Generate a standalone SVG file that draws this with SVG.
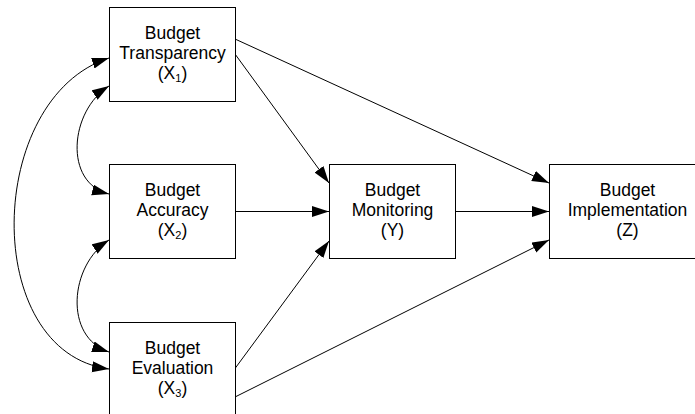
<svg xmlns="http://www.w3.org/2000/svg" width="695" height="414" viewBox="0 0 695 414">
<style>
.box{fill:#fff;stroke:#000;stroke-width:1}
.t{font-family:"Liberation Sans",Arial,sans-serif;font-size:17.5px;fill:#000;text-anchor:middle}
.s{font-size:11px}
.c{fill:none;stroke:#000;stroke-width:1}
</style>
<defs>
<marker id="ah" markerUnits="userSpaceOnUse" markerWidth="18" markerHeight="12" refX="17" refY="5.5" orient="auto-start-reverse">
<path d="M0,0 L17,5.5 L0,11 z" fill="#000"/>
</marker>
</defs>
<rect width="695" height="414" fill="#fff"/>
<g id="connectors">
<path class="c" d="M109,58 C-15,98 -20,352 109,369" marker-start="url(#ah)" marker-end="url(#ah)"/>
<path class="c" d="M109,86 C69.5,111 63.5,183 109,194" marker-start="url(#ah)" marker-end="url(#ah)"/>
<path class="c" d="M109,240 C69.5,265 63.5,337 109,352" marker-start="url(#ah)" marker-end="url(#ah)"/>
<line class="c" x1="235" y1="54" x2="329" y2="183" marker-end="url(#ah)"/>
<line class="c" x1="235" y1="39" x2="549" y2="183" marker-end="url(#ah)"/>
<line class="c" x1="235" y1="211.5" x2="329" y2="211.5" marker-end="url(#ah)"/>
<line class="c" x1="455" y1="211.5" x2="549" y2="211.5" marker-end="url(#ah)"/>
<line class="c" x1="235" y1="368.5" x2="329" y2="241" marker-end="url(#ah)"/>
<line class="c" x1="235" y1="397" x2="549" y2="240" marker-end="url(#ah)"/>
</g>
<g id="x1">
<rect class="box" x="109.5" y="7.5" width="126" height="94"/>
<text class="t" x="172.5" y="39">Budget</text>
<text class="t" x="172.5" y="59">Transparency</text>
<text class="t" x="172.5" y="79">(X<tspan class="s" dy="3">1</tspan><tspan dy="-3">)</tspan></text>
</g>
<g id="x2">
<rect class="box" x="109.5" y="164.5" width="126" height="94"/>
<text class="t" x="172.5" y="196">Budget</text>
<text class="t" x="172.5" y="216">Accuracy</text>
<text class="t" x="172.5" y="236">(X<tspan class="s" dy="3">2</tspan><tspan dy="-3">)</tspan></text>
</g>
<g id="x3">
<rect class="box" x="109.5" y="322.5" width="126" height="94"/>
<text class="t" x="172.5" y="354">Budget</text>
<text class="t" x="172.5" y="374">Evaluation</text>
<text class="t" x="172.5" y="394">(X<tspan class="s" dy="3">3</tspan><tspan dy="-3">)</tspan></text>
</g>
<g id="y">
<rect class="box" x="329.5" y="164.5" width="126" height="94"/>
<text class="t" x="392.5" y="196">Budget</text>
<text class="t" x="392.5" y="216">Monitoring</text>
<text class="t" x="392.5" y="236">(Y)</text>
</g>
<g id="z">
<rect class="box" x="549.5" y="164.5" width="157" height="94"/>
<text class="t" x="627.5" y="196">Budget</text>
<text class="t" x="627.5" y="216">Implementation</text>
<text class="t" x="627.5" y="236">(Z)</text>
</g>
</svg>
